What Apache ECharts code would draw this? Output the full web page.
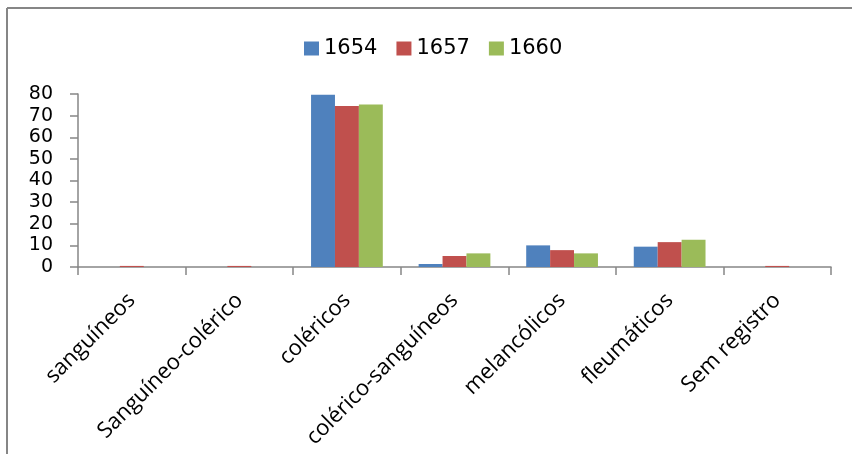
<!DOCTYPE html>
<html>
<head>
<meta charset="utf-8">
<script src="https://cdn.jsdelivr.net/npm/echarts@6/dist/echarts.min.js"></script>
<style>
  html, body { margin: 0; padding: 0; background: #fff; }
  #chart { width: 852px; height: 454px; }
</style>
</head>
<body>
<div id="chart"></div>
<script>
// Temperamentos registrados por ano (%)
const categories = ['sanguíneos', 'Sanguíneo-colérico', 'coléricos', 'colérico-sanguíneos', 'melancólicos', 'fleumáticos', 'Sem registro'];
const years = ['1654', '1657', '1660'];
const values1654 = [0, 0, 79.7, 1.4, 10.0, 9.4, 0];
const values1657 = [0.5, 0.5, 74.5, 5.1, 7.8, 11.5, 0.5];
const values1660 = [0, 0, 75.1, 6.3, 6.3, 12.6, 0];
const colors = ['#4F81BD', '#C0504D', '#9BBB59'];

const seriesValues = [values1654, values1657, values1660];

const chart = echarts.init(document.getElementById('chart'), null, { renderer: 'canvas' });

chart.setOption({
  animation: false,
  backgroundColor: '#ffffff',
  graphic: [
    { type: 'line', shape: { x1: 7, y1: 8, x2: 852, y2: 8 }, style: { stroke: '#868686', lineWidth: 2 } },
    { type: 'line', shape: { x1: 7, y1: 8, x2: 7, y2: 454 }, style: { stroke: '#868686', lineWidth: 2 } }
  ],
  legend: {
    left: 299,
    top: 33,
    itemWidth: 15,
    itemHeight: 14,
    itemGap: 19,
    icon: 'rect',
    textStyle: { fontFamily: 'DejaVu Sans', fontSize: 21, color: '#000' },
    data: years
  },
  grid: { left: 78, right: 21, top: 94, bottom: 187, containLabel: false },
  xAxis: {
    type: 'category',
    data: categories,
    axisLine: { lineStyle: { color: '#868686', width: 1.5 } },
    axisTick: { show: true, length: 8, lineStyle: { color: '#868686', width: 1.5 } },
    axisLabel: {
      rotate: 45,
      interval: 0,
      margin: 30,
      fontFamily: 'Open Sans',
      fontSize: 22,
      color: '#000'
    }
  },
  yAxis: {
    type: 'value',
    min: 0,
    max: 80,
    interval: 10,
    splitLine: { show: false },
    axisLine: { show: true, lineStyle: { color: '#868686', width: 1.5 } },
    axisTick: { show: true, length: 8, lineStyle: { color: '#868686', width: 1.5 } },
    axisLabel: { fontFamily: 'DejaVu Sans', fontSize: 19, color: '#000', margin: 25 }
  },
  series: years.map((y, i) => ({
    name: y,
    type: 'bar',
    data: seriesValues[i],
    barGap: '0%',
    barCategoryGap: '33.3%',
    itemStyle: { color: colors[i] }
  }))
});
</script>
</body>
</html>
